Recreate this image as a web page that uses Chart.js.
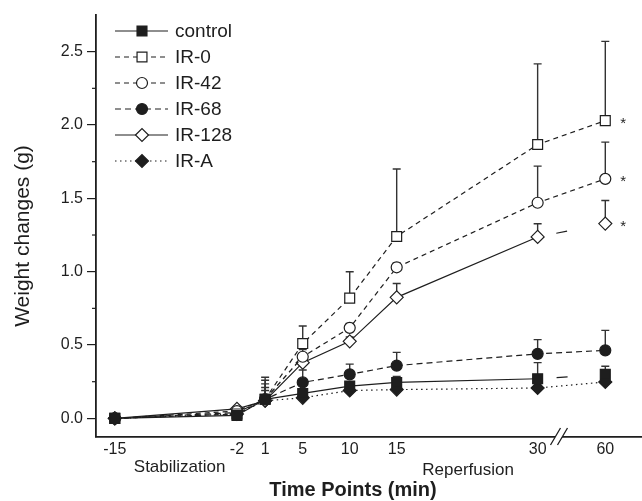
<!DOCTYPE html>
<html>
<head>
<meta charset="utf-8">
<script src="https://cdn.jsdelivr.net/npm/chart.js@4.4.0/dist/chart.umd.min.js"></script>
<style>
  body { margin: 0; background: #fff; }
  #wrap { width: 642px; height: 501px; }
</style>
</head>
<body>
<div id="wrap"><canvas id="myChart" width="642" height="501"></canvas></div>
<script>
// time points (min) and where they sit on the broken axis
var timeLabels = ['-15', '-2', '1', '5', '10', '15', '30', '60'];
var xPos = [-15, -2, 1, 5, 10, 15, 30, 37.2];

var seriesNames = ['control', 'IR-0', 'IR-42', 'IR-68', 'IR-128', 'IR-A'];

// mean weight changes (g)
var control = [0, 0.02, 0.13, 0.17, 0.22, 0.245, 0.27, 0.30];
var ir0     = [0, 0.03, 0.13, 0.51, 0.82, 1.24, 1.867, 2.03];
var ir42    = [0, 0.05, 0.13, 0.42, 0.617, 1.03, 1.47, 1.633];
var ir68    = [0, 0.04, 0.13, 0.245, 0.30, 0.36, 0.44, 0.464];
var ir128   = [0, 0.065, 0.12, 0.38, 0.525, 0.825, 1.237, 1.328];
var irA     = [0, 0.03, 0.12, 0.14, 0.19, 0.196, 0.207, 0.248];

// upper error bars (g)
var controlErr = [0, 0.01, 0.06, 0.03, 0.03, 0.04, 0.11, 0.055];
var ir0Err     = [0, 0.01, 0.15, 0.12, 0.18, 0.46, 0.55, 0.54];
var ir42Err    = [0, 0.01, 0.13, 0.05, 0.03, 0.03, 0.25, 0.25];
var ir68Err    = [0, 0.01, 0.08, 0.085, 0.07, 0.09, 0.097, 0.136];
var ir128Err   = [0, 0.01, 0.115, 0.04, 0.03, 0.095, 0.09, 0.157];
var irAErr     = [0, 0, 0.04, 0.02, 0.02, 0.02, 0.02, 0.02];

// significance marks at 60 min
var starred = ['IR-0', 'IR-42', 'IR-128'];

var yTicks = [0, 0.25, 0.5, 0.75, 1, 1.25, 1.5, 1.75, 2, 2.25, 2.5];

var ink = '#1e1e1e';
var font = "'Liberation Sans', Arial, sans-serif";

function pts(vals) {
    return vals.map(function (v, i) { return { x: xPos[i], y: v }; });
}

function makeSet(label, vals, errs, style, fill, dash, radius, broken) {
    return {
        label: label,
        data: pts(vals),
        errors: errs,
        borderColor: ink,
        borderWidth: 1.2,
        borderDash: dash,
        pointStyle: style,
        pointRadius: radius,
        pointHoverRadius: radius,
        pointBackgroundColor: fill,
        pointBorderColor: ink,
        pointBorderWidth: 1.2,
        tension: 0,
        segment: {
            // line between 30 and 60 only shows a short stub for these two
            borderDash: function (ctx) {
                return (broken && ctx.p0DataIndex === 6) ? [0, 19, 11, 1000] : undefined;
            }
        }
    };
}

var datasets = [
    makeSet(seriesNames[0], control, controlErr, 'rect', ink, [], 7, true),
    makeSet(seriesNames[1], ir0, ir0Err, 'rect', '#fff', [5, 4], 7, false),
    makeSet(seriesNames[2], ir42, ir42Err, 'circle', '#fff', [5, 4], 5.5, false),
    makeSet(seriesNames[3], ir68, ir68Err, 'circle', ink, [6, 4], 5.5, false),
    makeSet(seriesNames[4], ir128, ir128Err, 'rectRot', '#fff', [], 6.5, true),
    makeSet(seriesNames[5], irA, irAErr, 'rectRot', ink, [1.5, 3.5], 6.5, false)
];

var errorBars = {
    id: 'errorBars',
    beforeDatasetsDraw: function (chart) {
        var ctx = chart.ctx, y = chart.scales.y;
        ctx.save();
        ctx.strokeStyle = '#333';
        ctx.lineWidth = 1.4;
        chart.data.datasets.forEach(function (ds, di) {
            var meta = chart.getDatasetMeta(di);
            meta.data.forEach(function (p, i) {
                var e = ds.errors[i];
                if (!e) return;
                var top = y.getPixelForValue(ds.data[i].y + e);
                ctx.beginPath();
                ctx.moveTo(p.x, p.y);
                ctx.lineTo(p.x, top);
                ctx.moveTo(p.x - 4, top);
                ctx.lineTo(p.x + 4, top);
                ctx.stroke();
            });
        });
        ctx.restore();
    }
};

var extras = {
    id: 'extras',
    afterDraw: function (chart) {
        var ctx = chart.ctx, xs = chart.scales.x, ys = chart.scales.y;
        var area = chart.chartArea;
        ctx.save();

        // minor ticks on y axis
        ctx.strokeStyle = ink;
        ctx.lineWidth = 1.2;
        yTicks.forEach(function (v) {
            if (Math.round(v * 4) % 2 === 1) {
                var py = ys.getPixelForValue(v);
                ctx.beginPath();
                ctx.moveTo(area.left - 4, py);
                ctx.lineTo(area.left, py);
                ctx.stroke();
            }
        });

        // axis break
        var bx = xs.getPixelForValue(31.9), by = area.bottom;
        ctx.fillStyle = '#fff';
        ctx.beginPath();
        ctx.moveTo(bx - 5, by + 8);
        ctx.lineTo(bx + 5, by - 9);
        ctx.lineTo(bx + 12, by - 9);
        ctx.lineTo(bx + 2, by + 8);
        ctx.closePath();
        ctx.fill();
        ctx.strokeStyle = ink;
        ctx.lineWidth = 1.3;
        ctx.beginPath();
        ctx.moveTo(bx - 5, by + 8);
        ctx.lineTo(bx + 5, by - 9);
        ctx.moveTo(bx + 2, by + 8);
        ctx.lineTo(bx + 12, by - 9);
        ctx.stroke();

        // section labels under the ticks
        ctx.fillStyle = ink;
        ctx.font = '17px ' + font;
        ctx.textAlign = 'center';
        ctx.textBaseline = 'middle';
        ctx.fillText('Stabilization', xs.getPixelForValue(-8.1), 467);
        ctx.fillText('Reperfusion', xs.getPixelForValue(22.6), 470);

        // axis titles
        ctx.font = 'bold 20px ' + font;
        ctx.fillText('Time Points (min)', 353, 490);
        ctx.save();
        ctx.translate(23, 236);
        ctx.rotate(-Math.PI / 2);
        ctx.font = '21px ' + font;
        ctx.fillText('Weight changes (g)', 0, 0);
        ctx.restore();

        // asterisks
        ctx.font = '15px ' + font;
        chart.data.datasets.forEach(function (ds, di) {
            if (starred.indexOf(ds.label) < 0) return;
            var p = chart.getDatasetMeta(di).data[7];
            ctx.fillText('*', p.x + 18, p.y + 3);
        });

        // legend
        var lx0 = 115, lx1 = 168, mx = 142, tx = 175;
        chart.data.datasets.forEach(function (ds, di) {
            var ly = 31 + di * 26;
            ctx.strokeStyle = ink;
            ctx.lineWidth = 1.2;
            ctx.setLineDash(ds.borderDash);
            ctx.beginPath();
            ctx.moveTo(lx0, ly);
            ctx.lineTo(lx1, ly);
            ctx.stroke();
            ctx.setLineDash([]);
            ctx.fillStyle = ds.pointBackgroundColor;
            ctx.strokeStyle = ink;
            Chart.helpers.drawPoint(ctx, { pointStyle: ds.pointStyle, radius: ds.pointRadius, borderWidth: 1.2, rotation: 0 }, mx, ly);
            ctx.fillStyle = ink;
            ctx.font = '19px ' + font;
            ctx.textAlign = 'left';
            ctx.fillText(ds.label, tx, ly + 1);
        });
        ctx.restore();
    }
};

var chart = new Chart(document.getElementById('myChart').getContext('2d'), {
    type: 'line',
    data: { datasets: datasets },
    options: {
        responsive: false,
        animation: false,
        layout: { autoPadding: false, padding: { top: 15, right: 1, left: 0, bottom: 0 } },
        plugins: { legend: { display: false }, tooltip: { enabled: false } },
        scales: {
            x: {
                type: 'linear',
                min: -17,
                max: 41,
                afterBuildTicks: function (scale) {
                    scale.ticks = xPos.map(function (v) { return { value: v }; });
                },
                afterFit: function (scale) {
                    scale.height = 64;
                    scale.paddingLeft = 0;
                    scale.paddingRight = 0;
                },
                ticks: {
                    autoSkip: false,
                    maxRotation: 0,
                    padding: 3,
                    color: ink,
                    font: { family: font, size: 16 },
                    callback: function (v, i) { return timeLabels[i]; }
                },
                grid: { display: false, drawTicks: false, tickLength: 0 },
                border: { display: true, color: ink, width: 1.8 }
            },
            y: {
                type: 'linear',
                min: -0.127,
                max: 2.75,
                afterBuildTicks: function (scale) {
                    scale.ticks = yTicks.map(function (v) { return { value: v }; });
                },
                afterFit: function (scale) { scale.width = 96; },
                ticks: {
                    padding: 4,
                    color: ink,
                    font: { family: font, size: 16 },
                    callback: function (v) {
                        return (Math.round(v * 4) % 2 === 0) ? v.toFixed(1) : '';
                    }
                },
                grid: {
                    drawOnChartArea: false,
                    drawTicks: true,
                    tickLength: 9,
                    lineWidth: 1.2,
                    color: function (c) {
                        return (c.tick && Math.round(c.tick.value * 4) % 2 === 0) ? ink : 'rgba(0,0,0,0)';
                    }
                },
                border: { display: true, color: ink, width: 1.8 }
            }
        }
    },
    plugins: [errorBars, extras]
});
</script>
</body>
</html>
